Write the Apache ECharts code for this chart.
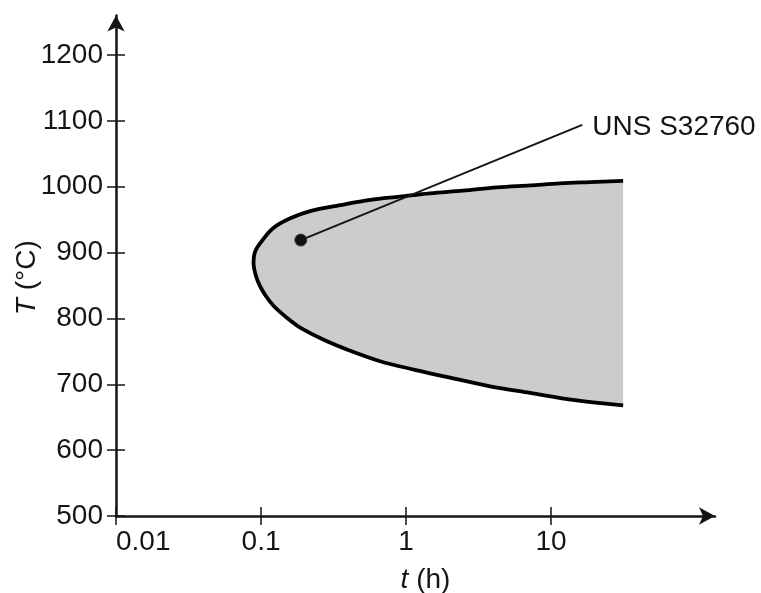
<!DOCTYPE html>
<html><head><meta charset="utf-8">
<script src="https://cdn.jsdelivr.net/npm/echarts@6/dist/echarts.min.js"></script>
<style>html,body{margin:0;padding:0;background:#fff}#c{width:761px;height:593px}</style>
</head><body><div id="c"></div>
<script>
// tick values
const xTicks = [0.01, 0.1, 1, 10];
const yTicks = [500, 600, 700, 800, 900, 1000, 1100, 1200];

// precipitation envelope outline: upper branch (right to left), nose, lower branch (left to right)
const outlineTime = [31.4, 18.6, 11.5, 7.16, 4.24, 2.47, 1.46, 0.909, 0.565, 0.351, 0.218, 0.159, 0.121, 0.100, 0.0909, 0.0888,
                     0.0924, 0.0984, 0.108, 0.121, 0.135, 0.159, 0.186, 0.268, 0.411, 0.662, 1.15, 2.01, 3.80, 7.16, 14.6, 31.4];
const outlineTemp = [1009, 1007, 1005, 1002, 999, 994, 990, 985, 980, 972, 963, 952, 937, 916, 901, 883,
                     864, 849, 834, 820, 810, 797, 786, 768, 751, 735, 722, 710, 697, 687, 676, 668];

// annotation: point and leader line end
const leaderTime = [0.188, 16.4];
const leaderTemp = [919, 1094];
const leaderLabel = 'UNS S32760';

const FONT = '"Liberation Sans", Arial, sans-serif';
const INK = '#151515';

const chart = echarts.init(document.getElementById('c'), null, {renderer: 'canvas'});

function xAxisBase(extra) {
  return Object.assign({
    type: 'log', logBase: 10, min: 0.01, max: 135, position: 'bottom',
    splitLine: {show: false}, minorTick: {show: false}, minorSplitLine: {show: false}
  }, extra);
}
function yAxisBase(extra) {
  return Object.assign({
    type: 'value', min: 500, max: 1260, position: 'left',
    splitLine: {show: false}
  }, extra);
}

chart.setOption({
  backgroundColor: '#ffffff',
  animation: false,
  grid: {left: 116, right: 46, top: 15.5, bottom: 77, containLabel: false, outerBoundsMode: 'none'},
  xAxis: [
    xAxisBase({
      axisLine: {show: true, onZero: false, symbol: ['none', 'arrow'], symbolSize: [13, 16],
                 lineStyle: {color: INK, width: 2.5}},
      axisTick: {show: true, length: 9, customValues: xTicks, lineStyle: {color: INK, width: 1.5}},
      axisLabel: {show: true, customValues: xTicks, fontSize: 28, fontFamily: FONT, color: INK, margin: 12,
                  alignMinLabel: 'left',
                  formatter: function (v) { return String(Number(Number(v).toPrecision(6))); }},
      name: '{i|t} (h)', nameLocation: 'middle', nameGap: 50, nameMoveOverlap: false,
      nameTextStyle: {fontSize: 28, fontFamily: FONT, color: INK, padding: [0, 0, 0, 20],
                      rich: {i: {fontStyle: 'italic', fontSize: 28, fontFamily: FONT, color: INK}}}
    }),
    xAxisBase({
      axisLine: {show: false, onZero: false},
      axisTick: {show: true, inside: true, length: 9, customValues: xTicks, lineStyle: {color: INK, width: 1.5}},
      axisLabel: {show: false}
    })
  ],
  yAxis: [
    yAxisBase({
      axisLine: {show: true, onZero: false, symbol: ['none', 'arrow'], symbolSize: [13, 16],
                 lineStyle: {color: INK, width: 2.5}},
      axisTick: {show: true, length: 9, customValues: yTicks, lineStyle: {color: INK, width: 1.5}},
      axisLabel: {show: true, customValues: yTicks, fontSize: 28, fontFamily: FONT, color: INK, margin: 13,
                  formatter: function (v) { return String(v); }},
      name: '{i|T} (°C)', nameLocation: 'middle', nameRotate: 90, nameGap: 75, nameMoveOverlap: false,
      nameTextStyle: {fontSize: 28, fontFamily: FONT, color: INK, padding: [0, 24, 0, 0],
                      rich: {i: {fontStyle: 'italic', fontSize: 28, fontFamily: FONT, color: INK}}}
    }),
    yAxisBase({
      axisLine: {show: false, onZero: false},
      axisTick: {show: true, inside: true, length: 9, customValues: yTicks, lineStyle: {color: INK, width: 1.5}},
      axisLabel: {show: false}
    })
  ],
  series: [
    {
      type: 'custom',
      xAxisIndex: 0, yAxisIndex: 0,
      z: 2,
      data: [[outlineTime[0], outlineTemp[0]]],
      renderItem: function (params, api) {
        const pts = outlineTime.map(function (t, i) { return api.coord([t, outlineTemp[i]]); });
        let minX = Infinity, minY = Infinity, maxX = -Infinity, maxY = -Infinity;
        pts.forEach(function (p) {
          minX = Math.min(minX, p[0]); maxX = Math.max(maxX, p[0]);
          minY = Math.min(minY, p[1]); maxY = Math.max(maxY, p[1]);
        });
        return {
          type: 'polyline',
          shape: {points: pts, smooth: 0.35, smoothConstraint: [[minX, minY], [maxX, maxY]]},
          style: {fill: '#cccccc', stroke: '#000000', lineWidth: 3.8, lineJoin: 'round', lineCap: 'butt'}
        };
      }
    },
    {
      type: 'line',
      xAxisIndex: 0, yAxisIndex: 0,
      z: 5,
      silent: true,
      lineStyle: {color: INK, width: 2},
      itemStyle: {color: '#111111', borderColor: '#3a3a3a', borderWidth: 1},
      endLabel: {show: true, formatter: leaderLabel, distance: 10, offset: [0, 2],
                 fontSize: 28, fontFamily: FONT, color: INK},
      data: [
        {value: [leaderTime[0], leaderTemp[0]], symbol: 'circle', symbolSize: 12},
        {value: [leaderTime[1], leaderTemp[1]], symbol: 'none'}
      ]
    }
  ]
});
</script>
</body></html>
